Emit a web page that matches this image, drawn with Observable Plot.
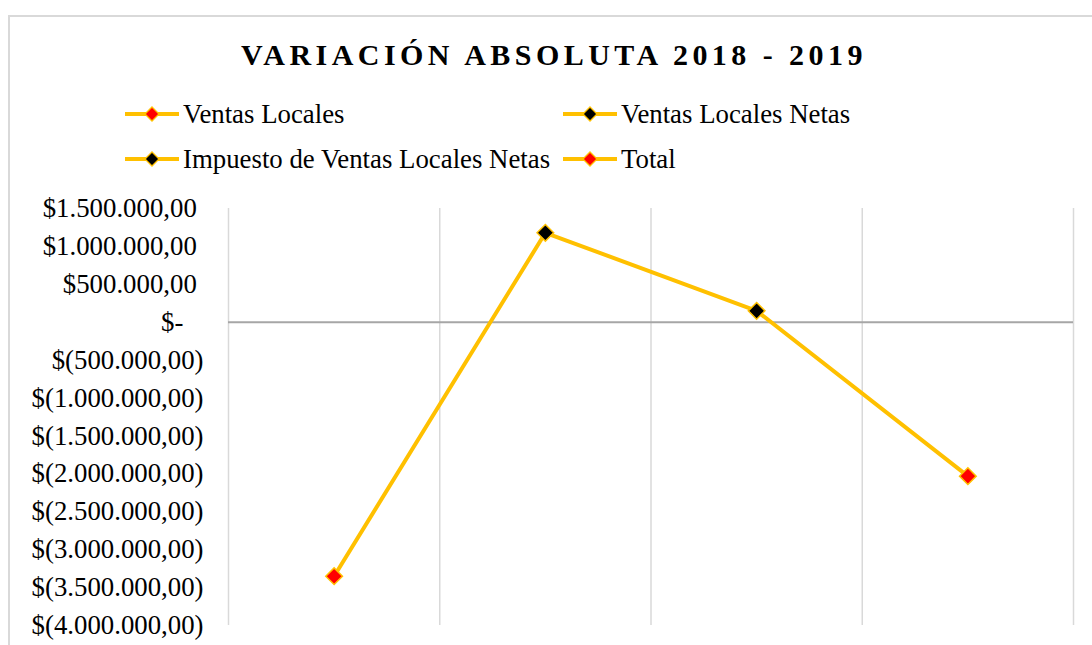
<!DOCTYPE html>
<html>
<head>
<meta charset="utf-8">
<script src="https://cdn.jsdelivr.net/npm/d3@7"></script>
<script src="https://cdn.jsdelivr.net/npm/@observablehq/plot@0.6"></script>
<style>
  html, body { margin: 0; padding: 0; background: #fff; overflow: hidden; width: 1092px; height: 645px; }
  body { font-family: "Liberation Serif", "Times New Roman", serif; position: relative; }
  #frame { position: absolute; left: 8px; top: 15px; width: 1200px; height: 800px; border: 2px solid #d9d9d9; box-sizing: border-box; }
  #title { position: absolute; left: 8px; width: 1092px; top: 35px; text-align: center; font-weight: bold; font-size: 30px; letter-spacing: 4.45px; color: #000; line-height: 40px; }
  .leg { position: absolute; display: flex; align-items: center; font-size: 26.8px; color: #000; line-height: 30px; white-space: nowrap; }
  .leg svg { margin-right: 3px; }
  #chart { position: absolute; left: 0; top: 180px; }
  #chart svg text { white-space: pre; }
</style>
</head>
<body>
<div id="frame"></div>
<div id="title">VARIACIÓN ABSOLUTA 2018 - 2019</div>
<div id="legend"></div>
<div id="chart"></div>
<script>
// ---- data ----
const categories = ["Ventas Locales", "Ventas Locales Netas", "Impuesto de Ventas Locales Netas", "Total"];
const values = [-3350000, 1180000, 150000, -2030000];
const markerColors = ["#FF0000", "#000000", "#000000", "#FF0000"];
const yTicks = [1500000, 1000000, 500000, 0, -500000, -1000000, -1500000, -2000000, -2500000, -3000000, -3500000, -4000000];

const lineColor = "#FFC000";

const data = categories.map((c, i) => ({ category: c, idx: i + 0.5, value: values[i], color: markerColors[i] }));

// ---- legend ----
const legendPos = [[124, 99], [562, 99], [124, 144], [562, 144]];
const legendEl = document.getElementById("legend");
categories.forEach((c, i) => {
  const d = document.createElement("div");
  d.className = "leg";
  d.style.left = legendPos[i][0] + "px";
  d.style.top = legendPos[i][1] + "px";
  d.innerHTML = `<svg width="56" height="22"><line x1="1" y1="11" x2="55" y2="11" stroke="${lineColor}" stroke-width="4"/><path d="M28,4L35,11L28,18L21,11Z" fill="${markerColors[i]}" stroke="${lineColor}" stroke-width="1.3"/></svg><span>${c}</span>`;
  legendEl.appendChild(d);
});

// ---- chart ----
const loc = d3.formatLocale({ decimal: ",", thousands: ".", grouping: [3], currency: ["$", ""] });
const num = loc.format(",.2f");
const fmt = v => v === 0 ? "$-\u00A0\u00A0\u00A0" : v > 0 ? "$" + num(v) + "\u00A0" : "$(" + num(-v) + ")";

const chart = Plot.plot({
  width: 1092,
  height: 485,
  marginLeft: 228,
  marginRight: 19,
  marginTop: 28,
  marginBottom: 40,
  style: { fontFamily: "'Liberation Serif', 'Times New Roman', serif", fontSize: "26.8px", color: "#000", background: "transparent" },
  x: { type: "linear", domain: [0, categories.length], axis: null },
  y: { domain: [-4000000, 1500000], axis: null },
  marks: [
    Plot.gridX(d3.range(categories.length + 1), { stroke: "#d9d9d9", strokeOpacity: 1, strokeWidth: 1.5 }),
    Plot.axisY(yTicks, { tickSize: 0, tickPadding: 25, tickFormat: fmt, fontSize: 26.8, fill: "#000", label: null }),
    Plot.ruleY([0], { stroke: "#a6a6a6", strokeWidth: 2.2 }),
    Plot.line(data, { x: "idx", y: "value", stroke: lineColor, strokeWidth: 4 }),
    Plot.dot(data, { x: "idx", y: "value", symbol: "diamond2", r: 7.5, fill: "color", stroke: lineColor, strokeWidth: 1.5 })
  ]
});
document.getElementById("chart").appendChild(chart);
</script>
</body>
</html>
